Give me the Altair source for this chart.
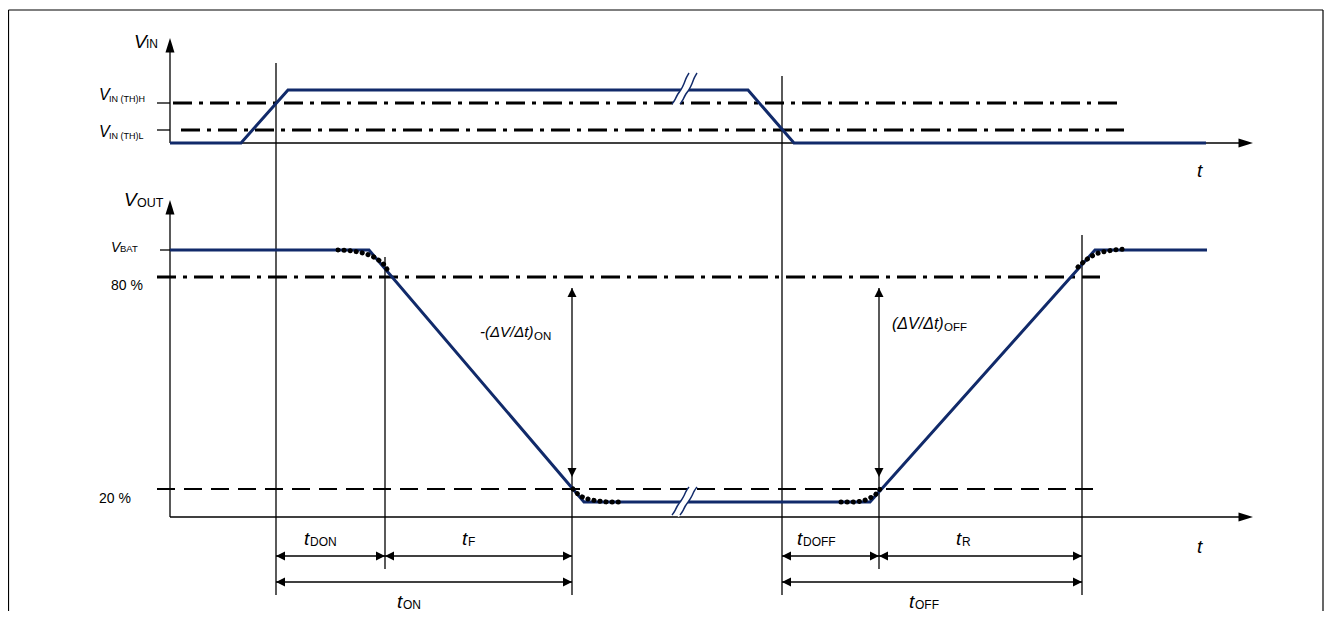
import altair as alt
import pandas as pd

# ---------------- diagram values (diagram units) ----------------
NAVY = "#112a6a"
FONT = "Liberation Sans"

# V_IN waveform (time, level)
vin_t = [170, 241, 288, 748, 794, 1206]
vin_v = [143, 143, 90, 90, 143, 143]
# V_OUT waveform (time, level)
vout_t = [170, 369, 584, 870, 1095, 1207]
vout_v = [250, 250, 502, 502, 250, 250]

# dotted "real" transition curves
dot_a_t = [338, 352, 366, 377, 385, 389]
dot_a_v = [250, 251, 254, 259, 266, 273]
dot_b_t = [573, 579, 588, 598, 610, 621]
dot_b_v = [489, 495, 499, 501, 502, 502]
dot_c_t = [841, 852, 862, 870, 876, 880]
dot_c_v = [502, 502, 501, 498, 494, 489]
dot_d_t = [1078, 1086, 1096, 1108, 1126]
dot_d_v = [267, 260, 254, 251, 249]

# threshold levels
level_th_h = 103
level_th_l = 130
level_80 = 277
level_20 = 489
level_vbat = 250
th_h_span = [173, 1118]
th_l_span = [181, 1124]
pct_span = [157, 1100]

# event times (vertical markers) and their vertical extent
ev_t = [276, 782, 385, 572, 879, 1082]
ev_top = [63, 76, 257, 288, 288, 235]
ev_bot = [595, 595, 569, 595, 569, 595]

# axes
axis_x0 = 170
top_base = 143
bot_base = 517
axis_end = 1240
axis_tip = 1253
vin_axis_top = 38
vout_axis_top = 200

# dimension arrows rows
dim_row1 = 556
dim_row2 = 582
dim_pairs_row1 = [(276, 385), (385, 572), (782, 879), (879, 1082)]
dim_pairs_row2 = [(276, 572), (782, 1082)]
slope_arrow_t = [572, 879]
slope_arrow_top = 288
slope_arrow_bot = 477

# break symbols
brk_t = [689, 686, 684, 681, 677, 675, 672]
brk_top_v = [73, 78, 84, 90, 95, 100, 104]
brk_bot_v = [487, 491, 496, 501, 506, 511, 515]
brk_gap = 8

# labels: (text, x, baseline, size)
italic_labels = [
    ("V", 134, 48, 19), ("V", 99, 100, 16), ("V", 99, 137, 16),
    ("V", 124, 206, 19), ("V", 111, 252, 14),
    ("t", 1197, 177, 19), ("t", 1197, 553, 19),
    ("t", 304, 545, 19), ("t", 462, 545, 19), ("t", 397, 608, 19),
    ("t", 797, 545, 19), ("t", 956, 545, 19), ("t", 909, 608, 19),
    ("-(ΔV/Δt)", 480, 337, 15), ("(ΔV/Δt)", 892, 329, 16),
]
plain_labels = [
    ("IN", 146, 48, 12), ("IN (TH)H", 109, 102, 9), ("IN (TH)L", 109, 139, 9),
    ("OUT", 137, 207, 12.5), ("BAT", 120, 252, 9.5),
    ("80 %", 111, 290, 14), ("20 %", 99, 503, 14),
    ("DON", 310, 546, 12), ("F", 468, 546, 12), ("ON", 403, 609, 12),
    ("DOFF", 803, 546, 12), ("R", 962, 546, 12), ("OFF", 915, 609, 12),
    ("ON", 534, 340, 11.5), ("OFF", 944, 331, 11.5),
]

# ---------------- helpers ----------------
W, H = 1316, 603
xs = alt.Scale(domain=[8, 8 + W], nice=False, zero=False)
ys = alt.Scale(domain=[8, 8 + H], nice=False, zero=False, reverse=True)
X = lambda f: alt.X(f, scale=xs, axis=None)
Y = lambda f: alt.Y(f, scale=ys, axis=None)


def rules(segs, **mk):
    df = pd.DataFrame([dict(x=a, y=b, x2=c, y2=d) for a, b, c, d in segs])
    return alt.Chart(df).mark_rule(**mk).encode(
        x=X("x:Q"), y=Y("y:Q"), x2="x2:Q", y2="y2:Q")


def lines(groups, **mk):
    rows = []
    for g, (tx, ty) in enumerate(groups):
        for i, (a, b) in enumerate(zip(tx, ty)):
            rows.append(dict(g=g, i=i, x=a, y=b))
    return alt.Chart(pd.DataFrame(rows)).mark_line(**mk).encode(
        x=X("x:Q"), y=Y("y:Q"), detail="g:N", order="i:Q")


def heads(pts, shape, size):
    df = pd.DataFrame([dict(x=a, y=b, a=ang) for a, b, ang in pts])
    return alt.Chart(df).mark_point(shape=shape, filled=True, color="black",
                                    opacity=1, strokeWidth=0, size=size).encode(
        x=X("x:Q"), y=Y("y:Q"), angle=alt.Angle("a:Q", scale=None))


def texts(labels, **mk):
    df = pd.DataFrame([dict(t=t, x=a, y=b, s=s) for t, a, b, s in labels])
    return alt.Chart(df).mark_text(align="left", baseline="alphabetic", font=FONT,
                                   color="black", **mk).encode(
        x=X("x:Q"), y=Y("y:Q"), text="t:N", size=alt.Size("s:Q", scale=None))


# ---------------- layers ----------------
frame = rules([(8.5, 10, 1323, 10), (8.5, 10, 8.5, 8 + H), (1323, 10, 1323, 8 + H)],
              color="black", strokeWidth=1.2)

thin = []
thin += [(axis_x0, top_base, axis_x0, vin_axis_top + 12),
         (axis_x0, top_base, axis_end, top_base),
         (axis_x0, bot_base, axis_x0, vout_axis_top + 12),
         (axis_x0, bot_base, axis_end, bot_base)]
thin += [(157, level_th_h, axis_x0, level_th_h), (157, level_th_l, axis_x0, level_th_l),
         (160, level_vbat, axis_x0, level_vbat)]
thin += [(t, a, t, b) for t, a, b in zip(ev_t, ev_top, ev_bot)]
thin += [(a, dim_row1, b, dim_row1) for a, b in dim_pairs_row1]
thin += [(a, dim_row2, b, dim_row2) for a, b in dim_pairs_row2]
thin_rules = rules(thin, color="black", strokeWidth=1.3)

dashdot = rules([(th_h_span[0], level_th_h, th_h_span[1], level_th_h),
                 (th_l_span[0], level_th_l, th_l_span[1], level_th_l),
                 (pct_span[0], level_80, pct_span[1], level_80)],
                color="black", strokeWidth=3, strokeDash=[19, 7, 4, 7])
dashed = rules([(pct_span[0], level_20, pct_span[1], level_20)],
               color="black", strokeWidth=2, strokeDash=[18, 9])

signals = lines([(vin_t, vin_v), (vout_t, vout_v)], color=NAVY, strokeWidth=3,
                strokeJoin="miter")

dots = lines([(dot_a_t, dot_a_v), (dot_b_t, dot_b_v), (dot_c_t, dot_c_v),
              (dot_d_t, dot_d_v)],
             color="black", strokeWidth=5, strokeDash=[0.1, 6], strokeCap="round",
             interpolate="monotone")

brk_mid = [t + brk_gap / 2 for t in brk_t]
brk_right = [t + brk_gap for t in brk_t]
brk_white = lines([(brk_mid, brk_top_v), (brk_mid, brk_bot_v)], color="white",
                  strokeWidth=7, interpolate="basis")
brk_lines = lines([(brk_t, brk_top_v), (brk_right, brk_top_v),
                   (brk_t, brk_bot_v), (brk_right, brk_bot_v)],
                  color=NAVY, strokeWidth=1.5, interpolate="basis")

axis_heads = heads([(axis_x0, vin_axis_top, 0), (axis_tip, top_base, 90),
                    (axis_x0, vout_axis_top, 0), (axis_tip, bot_base, 90)],
                   "M0,0L0.62,2L-0.62,2Z", 210)
dim_pts = []
for a, b in dim_pairs_row1:
    dim_pts += [(a, dim_row1, 270), (b, dim_row1, 90)]
for a, b in dim_pairs_row2:
    dim_pts += [(a, dim_row2, 270), (b, dim_row2, 90)]
for t in slope_arrow_t:
    dim_pts += [(t, slope_arrow_top, 0), (t, slope_arrow_bot, 180)]
dim_heads = heads(dim_pts, "M0,0L1,2L-1,2Z", 81)

italic = texts(italic_labels, fontStyle="italic")
plain = texts(plain_labels)

chart = alt.layer(
    frame, dashdot, dashed, thin_rules, signals, dots, brk_white, brk_lines,
    axis_heads, dim_heads, italic, plain,
).properties(
    width=W, height=H, padding=0, autosize=alt.AutoSizeParams(type="none")
).configure_view(stroke=None)

chart.save("out.html", embed_options={"renderer": "svg", "actions": False})
